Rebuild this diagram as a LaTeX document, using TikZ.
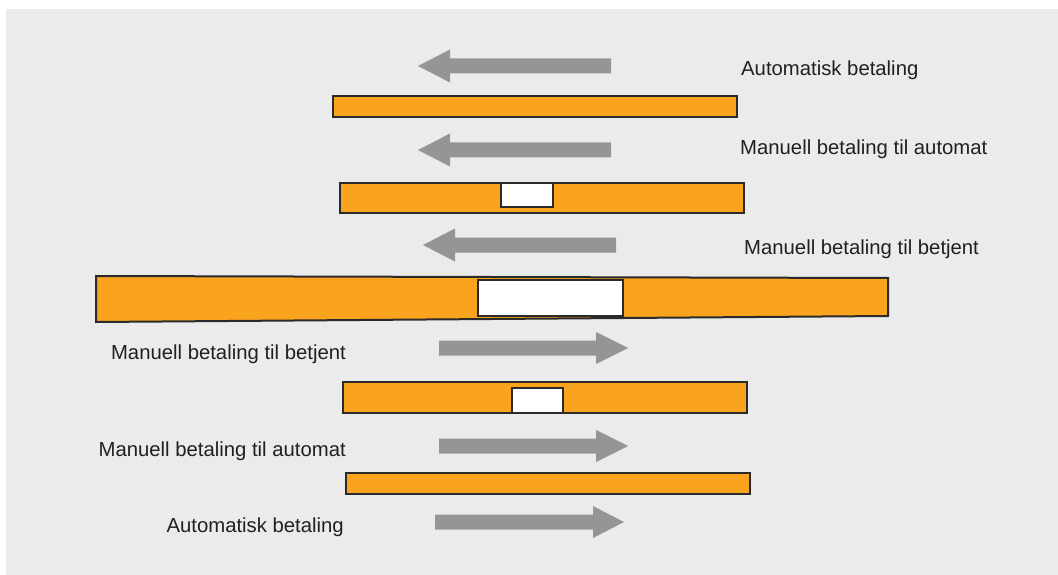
\documentclass[tikz,border=0pt]{standalone}
\usepackage{fontspec}
\setmainfont{Liberation Sans}
\definecolor{panel}{HTML}{EAEBEA}
\definecolor{bar}{HTML}{F9A31F}
\definecolor{edge}{HTML}{2A2A2A}
\definecolor{flow}{HTML}{959598}
\definecolor{ink}{HTML}{231F20}
\tikzset{
  lane/.style={fill=bar, draw=edge, line width=2pt},
  slot/.style={fill=white, draw=edge, line width=2pt},
  flowarrow/.style={fill=flow, draw=none},
  caption/.style={inner sep=0pt, text=ink, font=\fontsize{20.3}{24}\selectfont}
}
% left-pointing block arrow: tail x, head base x, tip x, centre y
\newcommand{\leftflow}[4]{%
  \fill[flowarrow] (#1,#4-7.5) -- (#2,#4-7.5) -- (#2,#4-16.5) -- (#3,#4)
    -- (#2,#4+16.5) -- (#2,#4+7.5) -- (#1,#4+7.5) -- cycle;}
\newcommand{\rightflow}[4]{%
  \fill[flowarrow] (#1,#4-7.5) -- (#2,#4-7.5) -- (#2,#4-16) -- (#3,#4)
    -- (#2,#4+16) -- (#2,#4+7.5) -- (#1,#4+7.5) -- cycle;}
\begin{document}
\begin{tikzpicture}[x=1pt,y=-1pt]
\useasboundingbox (0,0) rectangle (1058,575);
\fill[panel] (6,9) rectangle (1058,575);

% outgoing direction (right to left)
\leftflow{611}{450}{418}{66}
\node[caption, anchor=base west] (t1) at (741,76) {Automatisk betaling};
\draw[lane] (333,96) rectangle (737,117);

\leftflow{611}{450}{418}{150}
\node[caption, anchor=base west] (t2) at (740,155) {Manuell betaling til automat};
\draw[lane] (340,183) rectangle (744,213);
\draw[slot] (501,183) rectangle (553,207);

\leftflow{616}{455}{423}{245}
\node[caption, anchor=base west] (t3) at (744,254) {Manuell betaling til betjent};

% widest lane
\draw[lane] (96,276) -- (888,278) -- (888,316) -- (96,322) -- cycle;
\draw[slot] (478,280) rectangle (623,316);

% incoming direction (left to right)
\node[caption, anchor=base east] (t4) at (346,359) {Manuell betaling til betjent};
\rightflow{439}{596}{628}{348}
\draw[lane] (343,382) rectangle (747,413);
\draw[slot] (512,388) rectangle (563,413);

\node[caption, anchor=base east] (t5) at (346,456) {Manuell betaling til automat};
\rightflow{439}{596}{628}{446}
\draw[lane] (346,473) rectangle (750,494);

\node[caption, anchor=base east] (t6) at (344,532) {Automatisk betaling};
\rightflow{435}{593}{624}{522}
\end{tikzpicture}
\end{document}
